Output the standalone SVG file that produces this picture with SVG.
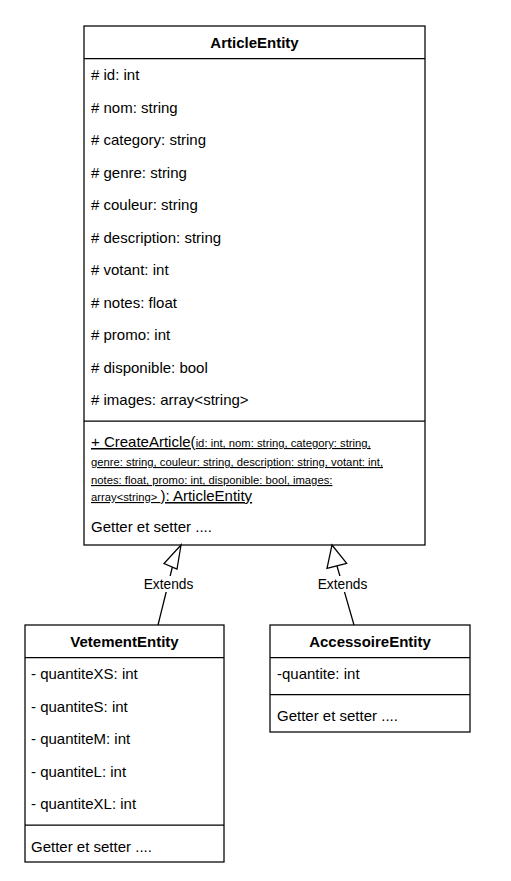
<svg xmlns="http://www.w3.org/2000/svg" width="511" height="881" viewBox="0 0 511 881">
<style>
.box{fill:#fff;stroke:#000;stroke-width:1.25}
.ln{stroke:#000;stroke-width:1.25;fill:none}
text{font-family:"Liberation Sans",Arial,sans-serif;fill:#000}
.t{font-size:15px}
.h{font-size:15px;font-weight:bold;text-anchor:middle}
.s{font-size:11.25px}
.lbl{font-size:13.75px;text-anchor:middle}
</style>
<rect width="511" height="881" fill="#fff"/>
<g id="ArticleEntity">
<rect class="box" x="84" y="26" width="341" height="519"/>
<line class="ln" x1="84" y1="58.5" x2="425" y2="58.5"/>
<line class="ln" x1="84" y1="421" x2="425" y2="421"/>
<text class="h" x="254.5" y="48">ArticleEntity</text>
<text class="t" x="91" y="80"># id: int</text>
<text class="t" x="91" y="112.5"># nom: string</text>
<text class="t" x="91" y="145"># category: string</text>
<text class="t" x="91" y="177.5"># genre: string</text>
<text class="t" x="91" y="210"># couleur: string</text>
<text class="t" x="91" y="242.5"># description: string</text>
<text class="t" x="91" y="275"># votant: int</text>
<text class="t" x="91" y="307.5"># notes: float</text>
<text class="t" x="91" y="340"># promo: int</text>
<text class="t" x="91" y="372.5"># disponible: bool</text>
<text class="t" x="91" y="405"># images: array&lt;string&gt;</text>
<text x="91" y="447" text-decoration="underline"><tspan class="t">+ CreateArticle(</tspan><tspan class="s">id: int, nom: string, category: string,</tspan></text>
<text class="s" x="91" y="466" text-decoration="underline">genre: string, couleur: string, description: string, votant: int,</text>
<text class="s" x="91" y="484" text-decoration="underline">notes: float, promo: int, disponible: bool, images:</text>
<text x="91" y="501" text-decoration="underline"><tspan class="s">array&lt;string&gt; </tspan><tspan class="t">): ArticleEntity</tspan></text>
<text class="t" x="91" y="531.5">Getter et setter ....</text>
</g>
<g id="VetementEntity">
<rect class="box" x="25" y="625" width="199" height="237"/>
<line class="ln" x1="25" y1="657.5" x2="224" y2="657.5"/>
<line class="ln" x1="25" y1="825" x2="224" y2="825"/>
<text class="h" x="124.5" y="647">VetementEntity</text>
<text class="t" x="31" y="679">- quantiteXS: int</text>
<text class="t" x="31" y="711.5">- quantiteS: int</text>
<text class="t" x="31" y="744">- quantiteM: int</text>
<text class="t" x="31" y="776.5">- quantiteL: int</text>
<text class="t" x="31" y="809">- quantiteXL: int</text>
<text class="t" x="31" y="851.5">Getter et setter ....</text>
</g>
<g id="AccessoireEntity">
<rect class="box" x="270" y="625" width="200" height="107"/>
<line class="ln" x1="270" y1="657.5" x2="470" y2="657.5"/>
<line class="ln" x1="270" y1="694.5" x2="470" y2="694.5"/>
<text class="h" x="370" y="647">AccessoireEntity</text>
<text class="t" x="277" y="679">-quantite: int</text>
<text class="t" x="277" y="720.5">Getter et setter ....</text>
</g>
<g id="connectors">
<line class="ln" x1="158" y1="625" x2="172.5" y2="566.5"/>
<polygon class="box" points="181,545 164,563.5 177,569"/>
<rect x="142" y="576" width="53" height="16" fill="#fff"/>
<text class="lbl" x="168.5" y="589">Extends</text>
<line class="ln" x1="354" y1="625" x2="337" y2="566"/>
<polygon class="box" points="332,545 327,568.3 346.7,563.3"/>
<rect x="316" y="576" width="53" height="16" fill="#fff"/>
<text class="lbl" x="342.5" y="589">Extends</text>
</g>
</svg>
